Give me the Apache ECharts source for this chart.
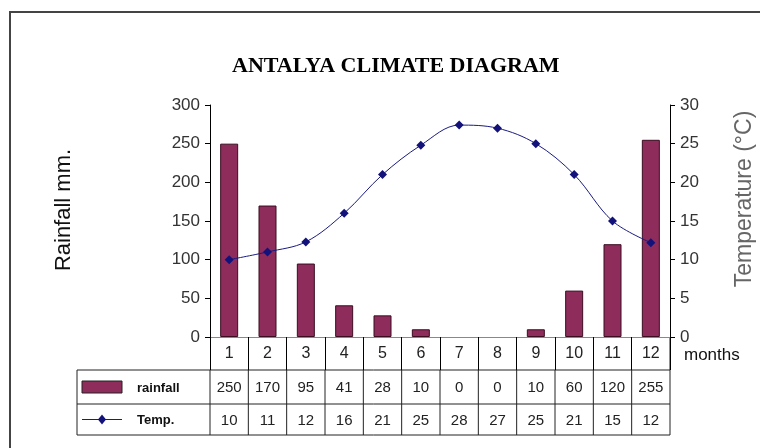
<!DOCTYPE html>
<html><head><meta charset="utf-8">
<script src="https://cdn.jsdelivr.net/npm/echarts@6/dist/echarts.min.js"></script>
<style>html,body{margin:0;padding:0;background:#fff}#c{width:760px;height:448px}</style>
</head><body><div id="c"></div>
<script>
var months = ['1','2','3','4','5','6','7','8','9','10','11','12'];
var rainfall = [250,170,95,41,28,10,0,0,10,60,120,255];
var tempPlotted = [10,11,12.3,16,21,24.8,27.4,27,25,21,15,12.2];
var rainTable = ['250','170','95','41','28','10','0','0','10','60','120','255'];
var tempTable = ['10','11','12','16','21','25','28','27','25','21','15','12'];
var rainTicks = [0,50,100,150,200,250,300];
var tempTicks = [0,5,10,15,20,25,30];

var FONT = '"Liberation Sans", Arial, sans-serif';
var chart = echarts.init(document.getElementById('c'), null, {renderer:'canvas'});
var option = {
  animation:false,
  backgroundColor:'#fff',
  title:{text:'ANTALYA CLIMATE DIAGRAM', left:227, top:50,
    textStyle:{fontFamily:'"Liberation Serif", "Times New Roman", serif', fontWeight:'bold', fontSize:22, color:'#000'}},
  grid:{left:210, right:90, top:105, bottom:111},
  xAxis:[{
    type:'category', data:months, position:'bottom',
    axisLine:{lineStyle:{color:'#000', width:1}},
    axisTick:{show:true, length:33, lineStyle:{color:'#000'}},
    axisLabel:{fontFamily:FONT, fontSize:16, color:'#222', margin:9}
  },{
    type:'category', data:months, position:'top',
    axisLine:{lineStyle:{color:'#888', width:1}},
    axisTick:{show:false}, axisLabel:{show:false}
  }],
  yAxis:[{
    type:'value', min:rainTicks[0], max:rainTicks[rainTicks.length-1], interval:50,
    axisLine:{show:true, lineStyle:{color:'#000'}},
    axisTick:{show:true, length:5, lineStyle:{color:'#000'}},
    splitLine:{show:false},
    axisLabel:{fontFamily:FONT, fontSize:17, color:'#333', margin:10}
  },{
    type:'value', min:tempTicks[0], max:tempTicks[tempTicks.length-1], interval:5,
    position:'right',
    axisLine:{show:true, lineStyle:{color:'#000'}},
    axisTick:{show:true, length:5, lineStyle:{color:'#000'}},
    splitLine:{show:false},
    axisLabel:{fontFamily:FONT, fontSize:17, color:'#333', margin:10}
  }],
  series:[{
    name:'rainfall', type:'bar', barWidth:18, yAxisIndex:0,
    data:rainfall.map(function(v){ return v === 0 ? {value:v, itemStyle:{borderWidth:0, opacity:0}} : v; }),
    itemStyle:{color:'#8E2C5C', borderColor:'#3a0d20', borderWidth:1}
  },{
    name:'Temp.', type:'line', data:tempPlotted, yAxisIndex:1, smooth:0.35,
    symbol:'diamond', symbolSize:9,
    lineStyle:{color:'#1a1a80', width:1},
    itemStyle:{color:'#12127a'}
  }]
};
chart.setOption(option);

var g = [];
var lineStyle = {stroke:'#222', lineWidth:1};
var yAxis0 = chart.convertToPixel({yAxisIndex:0}, 0);
var xStart = chart.convertToPixel({xAxisIndex:0}, months[0]);
var xEnd = chart.convertToPixel({xAxisIndex:0}, months[11]);
var colW = (xEnd - xStart) / 11;
var leftEdge = xStart - colW/2, rightEdge = xEnd + colW/2;
var tableLeft = 77;
var r1 = yAxis0 + 33, r2 = r1 + 34, r3 = r2 + 31;
function hline(x1,x2,y){g.push({type:'line',shape:{x1:x1,y1:y,x2:x2,y2:y},style:lineStyle});}
function vline(x,y1,y2){g.push({type:'line',shape:{x1:x,y1:y1,x2:x,y2:y2},style:lineStyle});}
hline(tableLeft, rightEdge, r1);
hline(tableLeft, rightEdge, r2);
hline(tableLeft, rightEdge, r3);
vline(tableLeft, r1, r3);
for (var i=0;i<=12;i++){ vline(leftEdge + i*colW, r1, r3); }
vline(rightEdge, yAxis0, r1);
for (var j=0;j<12;j++){
  var cx = chart.convertToPixel({xAxisIndex:0}, months[j]);
  g.push({type:'text', style:{text:rainTable[j], x:cx, y:(r1+r2)/2+1, textAlign:'center', textVerticalAlign:'middle', font:'15px '+FONT, fill:'#222'}});
  g.push({type:'text', style:{text:tempTable[j], x:cx, y:(r2+r3)/2+1, textAlign:'center', textVerticalAlign:'middle', font:'15px '+FONT, fill:'#222'}});
}
g.push({type:'rect', shape:{x:82, y:(r1+r2)/2-6, width:40, height:12}, style:{fill:'#8E2C5C', stroke:'#222', lineWidth:1}});
g.push({type:'text', style:{text:'rainfall', x:137, y:(r1+r2)/2+1, textVerticalAlign:'middle', font:'bold 13px '+FONT, fill:'#111'}});
g.push({type:'line', shape:{x1:82,y1:(r2+r3)/2,x2:122,y2:(r2+r3)/2}, style:{stroke:'#1a1a80', lineWidth:1}});
g.push({type:'polygon', shape:{points:[[102,(r2+r3)/2-5],[106,(r2+r3)/2],[102,(r2+r3)/2+5],[98,(r2+r3)/2]]}, style:{fill:'#12127a'}});
g.push({type:'text', style:{text:'Temp.', x:137, y:(r2+r3)/2+1, textVerticalAlign:'middle', font:'bold 13px '+FONT, fill:'#111'}});
g.push({type:'text', style:{text:'months', x:rightEdge+14, y:(yAxis0+r1)/2+2, textVerticalAlign:'middle', font:'17px '+FONT, fill:'#111'}});
g.push({type:'text', rotation:Math.PI/2, x:64, y:210, style:{text:'Rainfall mm.', x:0, y:0, textAlign:'center', textVerticalAlign:'middle', font:'22px '+FONT, fill:'#111'}});
g.push({type:'text', rotation:Math.PI/2, x:745, y:199, style:{text:'Temperature (°C)', x:0, y:0, textAlign:'center', textVerticalAlign:'middle', font:'23px '+FONT, fill:'#666'}});
g.push({type:'polyline', shape:{points:[[10,448],[10,12],[760,12]]}, style:{stroke:'#444', lineWidth:2, fill:null}});
chart.setOption({graphic:g});
</script></body></html>
